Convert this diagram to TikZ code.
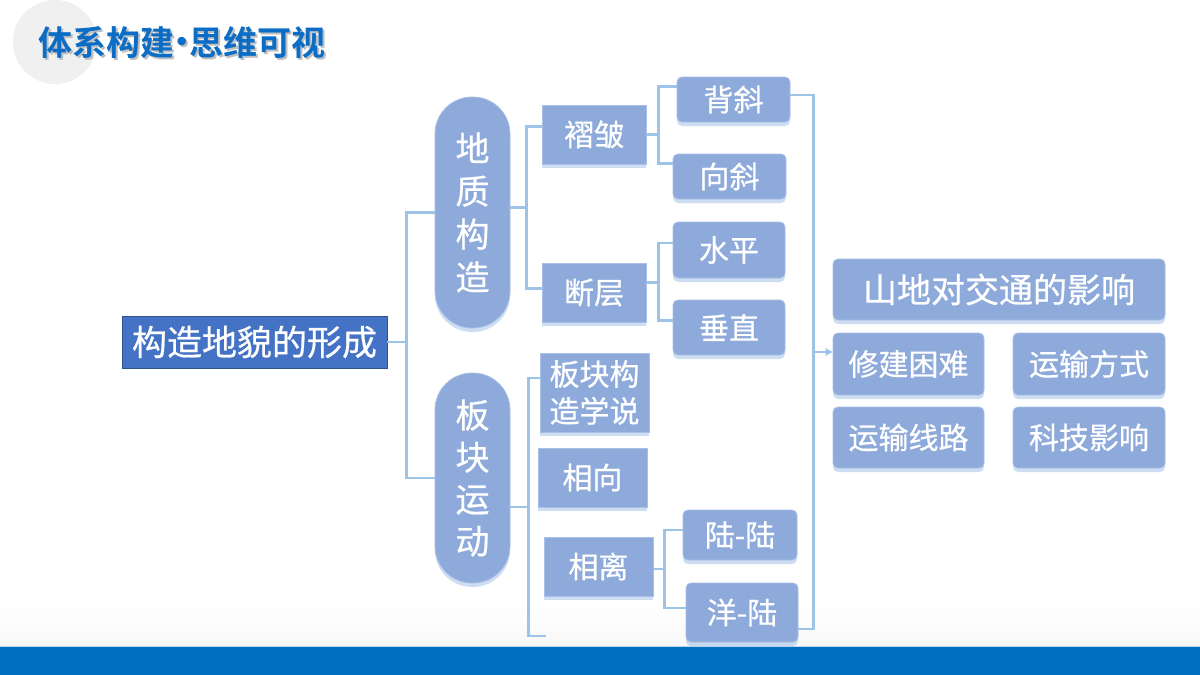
\documentclass[tikz,border=0pt]{standalone}
\usepackage{fontspec}
\setmainfont{Noto Sans CJK SC}[FakeBold=0.6]
\newfontfamily\titlefont{Noto Sans CJK SC Bold}
\newfontfamily\dotfont{DejaVu Sans}
\usetikzlibrary{calc,shadows,arrows.meta}
\definecolor{boxfill}{HTML}{8EAADB}
\definecolor{boxedge}{HTML}{A9BFE6}
\definecolor{rootfill}{HTML}{4472C4}
\definecolor{rootedge}{HTML}{2F528F}
\definecolor{connc}{HTML}{9DC3E6}
\definecolor{barc}{HTML}{0070C0}
\definecolor{titlec}{HTML}{0B6DC6}
\definecolor{shadc}{HTML}{5B8FD6}
\tikzset{
  base/.style={fill=boxfill, draw=boxedge, line width=0.8pt, text=white, inner sep=0pt, align=center,
    general shadow={fill=shadc, opacity=0.30, shadow xshift=0pt, shadow yshift=-4pt}},
  sqbox/.style={base, rectangle},
  rbox/.style={base, rectangle, rounded corners=5pt},
  pill/.style={base, rectangle, rounded corners=37pt},
  conn/.style={draw=connc, line width=2.6pt},
  fs30/.style={font=\fontsize{30}{36}\selectfont},
  fs34/.style={font=\fontsize{34}{40}\selectfont},
  ttl/.style={anchor=base west, inner sep=0pt, font=\titlefont\fontsize{34}{38}\selectfont},
}
\newcommand{\ttltext}{体系构建{\dotfont\bfseries\fontsize{24}{24}\selectfont\raisebox{4.5pt}{•}}思维可视}
\begin{document}
\begin{tikzpicture}[x=1pt,y=-1pt]
\useasboundingbox (0,0) rectangle (1200,675);
\fill[white] (0,0) rectangle (1200,675);
\shade[top color=white, bottom color=gray!6] (0,605) rectangle (1200,646);
\fill[barc] (0,646) rectangle (1200,675);
\draw[connc!70, line width=0.8pt] (0,646) -- (1200,646);
% title
\fill[gray!12] (55,42) circle (42);
\node[ttl, text=gray!50] at (40,57) {\ttltext};
\node[ttl, text=titlec] (title) at (38,55) {\ttltext};
% root
\node[rectangle, fill=rootfill, draw=rootedge, line width=0.8pt, text=white, inner sep=0pt,
  minimum width=265pt, minimum height=52pt, font=\fontsize{35}{40}\selectfont] (root) at (254.5,342) {构造地貌的形成};
% pills
\node[pill, minimum width=75pt, minimum height=231pt, font=\fontsize{34}{43}\selectfont] (geo) at (472.5,212.5) {地\\质\\构\\造};
\node[pill, minimum width=75pt, minimum height=210pt, font=\fontsize{34}{42}\selectfont] (plate) at (472.5,478) {板\\块\\运\\动};
% level 2
\node[sqbox, minimum width=104pt, minimum height=59pt, fs30] (zz) at (594,134.5) {褶皱};
\node[sqbox, minimum width=104pt, minimum height=59pt, fs30] (dc) at (594,292.5) {断层};
\node[sqbox, minimum width=109pt, minimum height=79pt, font=\fontsize{30}{37}\selectfont] (bk) at (594.5,392.5) {板块构\\造学说};
\node[sqbox, minimum width=109pt, minimum height=59pt, fs30] (xx) at (592.5,477.5) {相向};
\node[sqbox, minimum width=109pt, minimum height=59pt, fs30] (xl) at (598.5,566.5) {相离};
% level 3
\node[rbox, minimum width=113pt, minimum height=45pt, fs30] (bx) at (733.5,99.5) {背斜};
\node[rbox, minimum width=113pt, minimum height=45pt, fs30] (xs) at (729.5,176.5) {向斜};
\node[rbox, minimum width=112pt, minimum height=56pt, fs30] (sp) at (729,250) {水平};
\node[rbox, minimum width=112pt, minimum height=55pt, fs30] (cz) at (729,327.5) {垂直};
\node[rbox, minimum width=114pt, minimum height=50pt, fs30] (ll) at (740,535) {陆-陆};
\node[rbox, minimum width=112pt, minimum height=59pt, fs30] (yl) at (742,612.5) {洋-陆};
% right panel
\node[rbox, minimum width=332pt, minimum height=61pt, fs34] (sd) at (999,289.5) {山地对交通的影响};
\node[rbox, minimum width=151pt, minimum height=62pt, fs30] (xj) at (908.5,364) {修建困难};
\node[rbox, minimum width=152pt, minimum height=62pt, fs30] (ysfs) at (1089,364) {运输方式};
\node[rbox, minimum width=151pt, minimum height=61pt, fs30] (ysxl) at (908.5,437.5) {运输线路};
\node[rbox, minimum width=152pt, minimum height=61pt, fs30] (kj) at (1089,437.5) {科技影响};
% connectors
\coordinate (j1) at ($(geo.west)+(-28,0)$);
\draw[conn] (geo.west) -- (j1) |- (plate.west);
\draw[conn] (root.east) -- (root.east -| j1);
\coordinate (j2) at ($(zz.west)+(-15,-8)$);
\draw[conn] ($(zz.west)+(0,-8)$) -- (j2) |- ($(dc.west)+(0,-4)$);
\draw[conn] ($(geo.east)+(0,-5)$) -- ($(geo.east -| j2)+(0,-5)$);
\coordinate (j3) at ($(bx.west)+(-18,-13)$);
\draw[conn] ($(bx.west)+(0,-13)$) -- (j3) |- ($(xs.west)+(0,-13)$);
\draw[conn] (zz.east) -- (zz.east -| j3);
\coordinate (j4) at ($(sp.west)+(-14,-7)$);
\draw[conn] ($(sp.west)+(0,-7)$) -- (j4) |- ($(cz.west)+(0,-7)$);
\draw[conn] ($(dc.east)+(0,-10)$) -- ($(dc.east -| j4)+(0,-10)$);
\coordinate (j5) at ($(bk.west)+(-11,-14.5)$);
\coordinate (j5e) at ($(j5)+(17,258)$);
\draw[conn] ($(bk.west)+(0,-14.5)$) -- (j5) |- (j5e);
\draw[conn] ($(plate.east)+(0,29)$) -- ($(plate.east -| j5)+(0,29)$);
\coordinate (j6) at ($(ll.west)+(-18,-5)$);
\draw[conn] ($(ll.west)+(0,-5)$) -- (j6) |- ($(yl.west)+(0,-4.5)$);
\draw[conn] ($(xl.east)+(0,2.5)$) -- ($(xl.east -| j6)+(0,2.5)$);
\coordinate (j7) at ($(bx.east)+(23,-4.5)$);
\draw[conn] ($(bx.east)+(0,-4.5)$) -- (j7) |- ($(yl.east)+(0,16.5)$);
\coordinate (arr) at ($(j7)+(0,257)$);
\draw[conn, line width=2pt, -{Triangle[length=7pt,width=7pt]}] (arr) -- (arr -| xj.west);
\end{tikzpicture}
\end{document}
